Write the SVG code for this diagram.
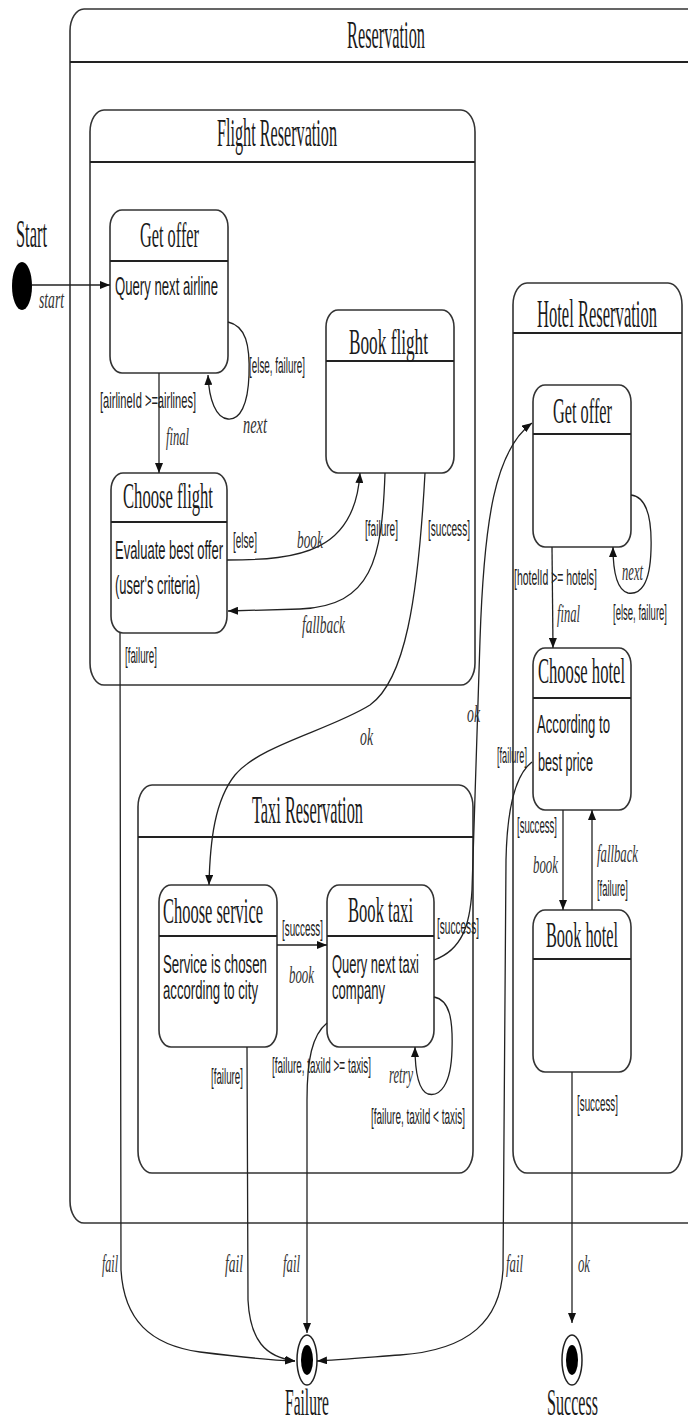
<svg xmlns="http://www.w3.org/2000/svg" width="688" height="1426" viewBox="0 0 688 1426">
<style>
.box{fill:#fff;stroke:#333;stroke-width:1.6}
.hdr{stroke:#222;stroke-width:2}
.c{fill:none;stroke:#222;stroke-width:1.3}
.ti{font-family:"Liberation Serif","Times New Roman",serif;font-size:16.7px;fill:#1a1a1a}
.fn{font-family:"Liberation Serif","Times New Roman",serif;font-size:15.4px;fill:#1a1a1a}
.st{font-family:"Liberation Serif","Times New Roman",serif;font-size:14.6px;fill:#1a1a1a}
.bd{font-family:"Liberation Sans",Arial,sans-serif;font-size:10.4px;fill:#1a1a1a}
.lb{font-family:"Liberation Sans",Arial,sans-serif;font-size:9.2px;fill:#222}
.it{font-family:"Liberation Serif","Times New Roman",serif;font-style:italic;font-size:10.8px;fill:#333}
</style>
<defs>
<marker id="ah" markerUnits="userSpaceOnUse" markerWidth="11" markerHeight="8" refX="10" refY="4" orient="auto">
<path d="M0,0 L10,4 L0,8 z" fill="#111"/>
</marker>
</defs>
<rect width="688" height="1426" fill="#fff"/>

<g id="reservation">
<rect class="box" x="70" y="9" width="640" height="1214" rx="14" ry="22"/>
<line class="hdr" x1="70" y1="62" x2="688" y2="62"/>
<text class="ti" x="347" y="48" transform="matrix(1 0 0 2.4 0 -67.2)" textLength="78" lengthAdjust="spacingAndGlyphs">Reservation</text>
</g>

<g id="flight-reservation">
<rect class="box" x="90" y="110" width="385" height="575" rx="14" ry="22"/>
<line class="hdr" x1="90" y1="162" x2="475" y2="162"/>
<text class="ti" x="217" y="146" transform="matrix(1 0 0 2.4 0 -204.4)" textLength="120" lengthAdjust="spacingAndGlyphs">Flight Reservation</text>
</g>

<g id="hotel-reservation">
<rect class="box" x="513" y="283" width="169" height="890" rx="14" ry="22"/>
<line class="hdr" x1="513" y1="333" x2="682" y2="333"/>
<text class="ti" x="537" y="327" transform="matrix(1 0 0 2.4 0 -457.8)" textLength="120" lengthAdjust="spacingAndGlyphs">Hotel Reservation</text>
</g>

<g id="taxi-reservation">
<rect class="box" x="138" y="785" width="335" height="388" rx="14" ry="22"/>
<line class="hdr" x1="138" y1="837" x2="473" y2="837"/>
<text class="ti" x="252" y="823" transform="matrix(1 0 0 2.4 0 -1152.2)" textLength="111" lengthAdjust="spacingAndGlyphs">Taxi Reservation</text>
</g>

<g id="start">
<ellipse cx="22" cy="286" rx="10" ry="24" fill="#000"/>
<text class="ti" x="16" y="247" transform="matrix(1 0 0 2.4 0 -345.8)" textLength="31" lengthAdjust="spacingAndGlyphs">Start</text>
</g>

<g id="flight-get-offer">
<rect class="box" x="110" y="210" width="118" height="163" rx="12" ry="17"/>
<line class="hdr" x1="110" y1="261" x2="228" y2="261"/>
<text class="st" x="140" y="247" transform="matrix(1 0 0 2.4 0 -345.8)" textLength="59" lengthAdjust="spacingAndGlyphs">Get offer</text>
<text class="bd" x="115" y="295" transform="matrix(1 0 0 2.4 0 -413)" textLength="103" lengthAdjust="spacingAndGlyphs">Query next airline</text>
</g>

<g id="book-flight">
<rect class="box" x="326" y="310" width="128" height="163" rx="12" ry="17"/>
<line class="hdr" x1="326" y1="361" x2="454" y2="361"/>
<text class="st" x="349" y="354" transform="matrix(1 0 0 2.4 0 -495.6)" textLength="79" lengthAdjust="spacingAndGlyphs">Book flight</text>
</g>

<g id="choose-flight">
<rect class="box" x="111" y="473" width="116" height="160" rx="12" ry="17"/>
<line class="hdr" x1="111" y1="522" x2="227" y2="522"/>
<text class="st" x="123" y="508" transform="matrix(1 0 0 2.4 0 -711.2)" textLength="90" lengthAdjust="spacingAndGlyphs">Choose flight</text>
<text class="bd" x="115" y="559" transform="matrix(1 0 0 2.4 0 -782.6)" textLength="108" lengthAdjust="spacingAndGlyphs">Evaluate best offer</text>
<text class="bd" x="115" y="594" transform="matrix(1 0 0 2.4 0 -831.6)" textLength="85" lengthAdjust="spacingAndGlyphs">(user's criteria)</text>
</g>

<g id="hotel-get-offer">
<rect class="box" x="533" y="385" width="98" height="162" rx="12" ry="17"/>
<line class="hdr" x1="533" y1="434" x2="631" y2="434"/>
<text class="st" x="553" y="423" transform="matrix(1 0 0 2.4 0 -592.2)" textLength="59" lengthAdjust="spacingAndGlyphs">Get offer</text>
</g>

<g id="choose-hotel">
<rect class="box" x="533" y="648" width="98" height="162" rx="12" ry="17"/>
<line class="hdr" x1="533" y1="698" x2="631" y2="698"/>
<text class="st" x="538" y="683" transform="matrix(1 0 0 2.4 0 -956.2)" textLength="87" lengthAdjust="spacingAndGlyphs">Choose hotel</text>
<text class="bd" x="537" y="733" transform="matrix(1 0 0 2.4 0 -1026.2)" textLength="73" lengthAdjust="spacingAndGlyphs">According to</text>
<text class="bd" x="538" y="771" transform="matrix(1 0 0 2.4 0 -1079.4)" textLength="55" lengthAdjust="spacingAndGlyphs">best price</text>
</g>

<g id="book-hotel">
<rect class="box" x="533" y="910" width="98" height="162" rx="12" ry="17"/>
<line class="hdr" x1="533" y1="959" x2="631" y2="959"/>
<text class="st" x="546" y="947" transform="matrix(1 0 0 2.4 0 -1325.8)" textLength="72" lengthAdjust="spacingAndGlyphs">Book hotel</text>
</g>

<g id="choose-service">
<rect class="box" x="159" y="885" width="118" height="162" rx="12" ry="17"/>
<line class="hdr" x1="159" y1="936" x2="277" y2="936"/>
<text class="st" x="163" y="923" transform="matrix(1 0 0 2.4 0 -1292.2)" textLength="100" lengthAdjust="spacingAndGlyphs">Choose service</text>
<text class="bd" x="163" y="973" transform="matrix(1 0 0 2.4 0 -1362.2)" textLength="104" lengthAdjust="spacingAndGlyphs">Service is chosen</text>
<text class="bd" x="163" y="999" transform="matrix(1 0 0 2.4 0 -1398.6)" textLength="95" lengthAdjust="spacingAndGlyphs">according to city</text>
</g>

<g id="book-taxi">
<rect class="box" x="327" y="885" width="107" height="162" rx="12" ry="17"/>
<line class="hdr" x1="327" y1="936" x2="434" y2="936"/>
<text class="st" x="348" y="922" transform="matrix(1 0 0 2.4 0 -1290.8)" textLength="65" lengthAdjust="spacingAndGlyphs">Book taxi</text>
<text class="bd" x="332" y="973" transform="matrix(1 0 0 2.4 0 -1362.2)" textLength="87" lengthAdjust="spacingAndGlyphs">Query next taxi</text>
<text class="bd" x="332" y="999" transform="matrix(1 0 0 2.4 0 -1398.6)" textLength="53" lengthAdjust="spacingAndGlyphs">company</text>
</g>

<g id="failure">
<ellipse cx="307" cy="1360" rx="10" ry="25" fill="#fff" stroke="#222" stroke-width="1.5"/>
<ellipse cx="307" cy="1360" rx="6" ry="15" fill="#000"/>
<text class="fn" x="285" y="1415" transform="matrix(1 0 0 2.4 0 -1981)" textLength="44" lengthAdjust="spacingAndGlyphs">Failure</text>
</g>

<g id="success">
<ellipse cx="572" cy="1360" rx="10" ry="25" fill="#fff" stroke="#222" stroke-width="1.5"/>
<ellipse cx="572" cy="1360" rx="6" ry="15" fill="#000"/>
<text class="fn" x="547" y="1415" transform="matrix(1 0 0 2.4 0 -1981)" textLength="51" lengthAdjust="spacingAndGlyphs">Success</text>
</g>

<g id="connectors">
<path class="c" marker-end="url(#ah)" d="M32,285 L110,285"/>
<path class="c" marker-end="url(#ah)" d="M228,322 C246,326 250,345 249,375 C248,405 240,420 228,419 C216,418 209,400 208,375"/>
<path class="c" marker-end="url(#ah)" d="M159,373 L159,473"/>
<path class="c" marker-end="url(#ah)" d="M227,560 C300,560 355,552 360,473"/>
<path class="c" marker-end="url(#ah)" d="M385,473 C382,560 372,606 300,609 L228,611"/>
<path class="c" marker-end="url(#ah)" d="M425,473 C418,600 405,680 370,705 C330,730 260,745 235,775 C215,800 210,840 209,885"/>
<path class="c" marker-end="url(#ah)" d="M120,633 L121,1270 C124,1320 150,1345 200,1352 C240,1357 270,1360 295,1361"/>
<path class="c" marker-end="url(#ah)" d="M247,1047 L248,1300 C250,1340 265,1357 295,1361"/>
<path class="c" marker-end="url(#ah)" d="M277,945 L327,945"/>
<path class="c" marker-end="url(#ah)" d="M327,1023 C312,1035 307,1060 307,1100 L307,1333"/>
<path class="c" marker-end="url(#ah)" d="M434,997 C450,1000 453,1020 452,1050 C451,1085 440,1097 428,1094 C418,1090 415,1070 415,1047"/>
<path class="c" marker-end="url(#ah)" d="M434,960 C462,950 470,925 472,890 L480,640 C484,520 495,450 532,423"/>
<path class="c" marker-end="url(#ah)" d="M631,495 C648,497 652,520 651,550 C650,585 640,595 628,593 C617,590 613,570 613,547"/>
<path class="c" marker-end="url(#ah)" d="M552,547 L553,648"/>
<path class="c" marker-end="url(#ah)" d="M532,762 C515,775 507,810 506,860 L503,1270 C500,1320 470,1350 400,1355 C360,1358 335,1360 317,1361"/>
<path class="c" marker-end="url(#ah)" d="M563,810 L563,910"/>
<path class="c" marker-end="url(#ah)" d="M592,910 L592,810"/>
<path class="c" marker-end="url(#ah)" d="M572,1072 L572,1323"/>
</g>

<g id="labels">
<text class="it" x="39" y="308" transform="matrix(1 0 0 2.4 0 -431.2)" textLength="25" lengthAdjust="spacingAndGlyphs">start</text>
<text class="lb" x="249" y="373" transform="matrix(1 0 0 2.4 0 -522.2)" textLength="56" lengthAdjust="spacingAndGlyphs">[else, failure]</text>
<text class="it" x="243" y="433" transform="matrix(1 0 0 2.4 0 -606.2)" textLength="24" lengthAdjust="spacingAndGlyphs">next</text>
<text class="lb" x="100" y="408" transform="matrix(1 0 0 2.4 0 -571.2)" textLength="96" lengthAdjust="spacingAndGlyphs">[airlineId  &gt;=airlines]</text>
<text class="it" x="166" y="445" transform="matrix(1 0 0 2.4 0 -623)" textLength="23" lengthAdjust="spacingAndGlyphs">final</text>
<text class="lb" x="233" y="548" transform="matrix(1 0 0 2.4 0 -767.2)" textLength="24" lengthAdjust="spacingAndGlyphs">[else]</text>
<text class="it" x="297" y="548" transform="matrix(1 0 0 2.4 0 -767.2)" textLength="26" lengthAdjust="spacingAndGlyphs">book</text>
<text class="lb" x="365" y="536" transform="matrix(1 0 0 2.4 0 -750.4)" textLength="33" lengthAdjust="spacingAndGlyphs">[failure]</text>
<text class="lb" x="428" y="536" transform="matrix(1 0 0 2.4 0 -750.4)" textLength="42" lengthAdjust="spacingAndGlyphs">[success]</text>
<text class="it" x="302" y="633" transform="matrix(1 0 0 2.4 0 -886.2)" textLength="43" lengthAdjust="spacingAndGlyphs">fallback</text>
<text class="lb" x="125" y="663" transform="matrix(1 0 0 2.4 0 -928.2)" textLength="32" lengthAdjust="spacingAndGlyphs">[failure]</text>
<text class="it" x="360" y="745" transform="matrix(1 0 0 2.4 0 -1043)" textLength="13" lengthAdjust="spacingAndGlyphs">ok</text>
<text class="it" x="467" y="722" transform="matrix(1 0 0 2.4 0 -1010.8)" textLength="13" lengthAdjust="spacingAndGlyphs">ok</text>
<text class="it" x="622" y="580" transform="matrix(1 0 0 2.4 0 -812)" textLength="21" lengthAdjust="spacingAndGlyphs">next</text>
<text class="lb" x="514" y="585" transform="matrix(1 0 0 2.4 0 -819)" textLength="83" lengthAdjust="spacingAndGlyphs">[hotelId &gt;= hotels]</text>
<text class="it" x="557" y="622" transform="matrix(1 0 0 2.4 0 -870.8)" textLength="23" lengthAdjust="spacingAndGlyphs">final</text>
<text class="lb" x="613" y="620" transform="matrix(1 0 0 2.4 0 -868)" textLength="54" lengthAdjust="spacingAndGlyphs">[else, failure]</text>
<text class="lb" x="497" y="763" transform="matrix(1 0 0 2.4 0 -1068.2)" textLength="30" lengthAdjust="spacingAndGlyphs">[failure]</text>
<text class="lb" x="517" y="833" transform="matrix(1 0 0 2.4 0 -1166.2)" textLength="40" lengthAdjust="spacingAndGlyphs">[success]</text>
<text class="it" x="533" y="873" transform="matrix(1 0 0 2.4 0 -1222.2)" textLength="25" lengthAdjust="spacingAndGlyphs">book</text>
<text class="it" x="597" y="862" transform="matrix(1 0 0 2.4 0 -1206.8)" textLength="41" lengthAdjust="spacingAndGlyphs">fallback</text>
<text class="lb" x="597" y="896" transform="matrix(1 0 0 2.4 0 -1254.4)" textLength="31" lengthAdjust="spacingAndGlyphs">[failure]</text>
<text class="lb" x="577" y="1111" transform="matrix(1 0 0 2.4 0 -1555.4)" textLength="41" lengthAdjust="spacingAndGlyphs">[success]</text>
<text class="lb" x="282" y="936" transform="matrix(1 0 0 2.4 0 -1310.4)" textLength="41" lengthAdjust="spacingAndGlyphs">[success]</text>
<text class="it" x="289" y="983" transform="matrix(1 0 0 2.4 0 -1376.2)" textLength="25" lengthAdjust="spacingAndGlyphs">book</text>
<text class="lb" x="437" y="934" transform="matrix(1 0 0 2.4 0 -1307.6)" textLength="42" lengthAdjust="spacingAndGlyphs">[success]</text>
<text class="lb" x="211" y="1084" transform="matrix(1 0 0 2.4 0 -1517.6)" textLength="32" lengthAdjust="spacingAndGlyphs">[failure]</text>
<text class="lb" x="272" y="1073" transform="matrix(1 0 0 2.4 0 -1502.2)" textLength="99" lengthAdjust="spacingAndGlyphs">[failure, taxiId &gt;= taxis]</text>
<text class="it" x="389" y="1083" transform="matrix(1 0 0 2.4 0 -1516.2)" textLength="24" lengthAdjust="spacingAndGlyphs">retry</text>
<text class="lb" x="371" y="1124" transform="matrix(1 0 0 2.4 0 -1573.6)" textLength="94" lengthAdjust="spacingAndGlyphs">[failure, taxiId &lt; taxis]</text>
<text class="it" x="102" y="1272" transform="matrix(1 0 0 2.4 0 -1780.8)" textLength="16" lengthAdjust="spacingAndGlyphs">fail</text>
<text class="it" x="225" y="1272" transform="matrix(1 0 0 2.4 0 -1780.8)" textLength="18" lengthAdjust="spacingAndGlyphs">fail</text>
<text class="it" x="283" y="1272" transform="matrix(1 0 0 2.4 0 -1780.8)" textLength="17" lengthAdjust="spacingAndGlyphs">fail</text>
<text class="it" x="506" y="1272" transform="matrix(1 0 0 2.4 0 -1780.8)" textLength="17" lengthAdjust="spacingAndGlyphs">fail</text>
<text class="it" x="578" y="1272" transform="matrix(1 0 0 2.4 0 -1780.8)" textLength="12" lengthAdjust="spacingAndGlyphs">ok</text>
</g>
</svg>
